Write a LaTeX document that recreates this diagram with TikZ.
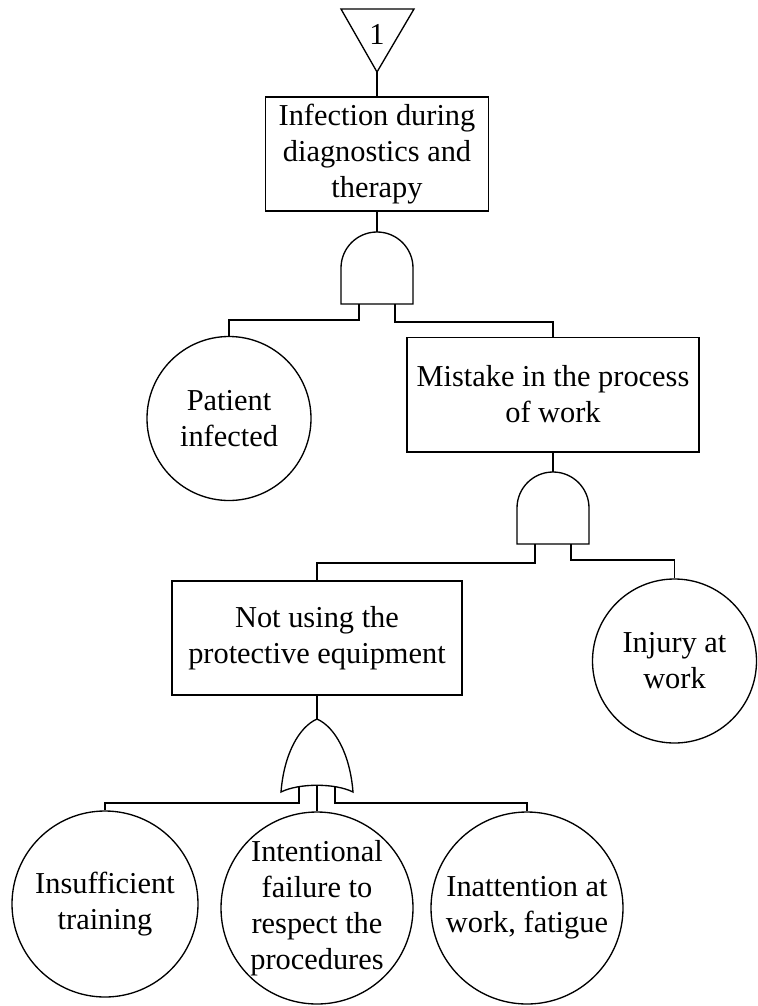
\documentclass[tikz,border=0pt]{standalone}
\usepackage{fontspec}
\setmainfont{Liberation Serif}
\usetikzlibrary{positioning}
\tikzset{every node/.style={font=\fontsize{22.8}{27}\selectfont},
 evbox/.style={draw,align=center,inner sep=0pt},
 basic/.style={circle,draw,align=center,inner sep=0pt},
 pics/andgate/.style={code={
  \draw (-36,-72)--(-36,-36) arc[start angle=180,end angle=0,radius=36]--(36,-72)--cycle;
  \coordinate (-out) at (0,0);
  \coordinate (-in1) at (-18,-72);
  \coordinate (-in2) at (18,-72);}},
 pics/orgate/.style={code={
  \draw (0,0) .. controls (18,-8) and (33,-35) .. (36,-73)
   .. controls (18,-64) and (-18,-64) .. (-36,-73)
   .. controls (-33,-35) and (-18,-8) .. cycle;
  \coordinate (-out) at (0,0);
  \coordinate (-in1) at (-18,-68);
  \coordinate (-in2) at (0,-66);
  \coordinate (-in3) at (18,-68);}}}
\begin{document}
\begin{tikzpicture}[x=.75pt,y=.75pt,line width=1pt]
\useasboundingbox (0,0) rectangle (757,-1006);
% transfer in
\draw (341,-9)--(414,-9)--(377,-72) coordinate (xfer)--cycle;
\node (xferlbl) at (377,-34) {1};
% top event and its AND gate
\node[evbox,minimum width=167pt,minimum height=85.5pt] (infect) at (377,-154)
 {Infection during\\diagnostics and\\therapy};
\pic (g1) at (377,-232) {andgate};
\node[basic,minimum size=123pt] (pat) at (229,-418.5) {Patient\\infected};
\node[evbox,minimum width=219pt,minimum height=86pt] (mistake) at (553,-394.5)
 {Mistake in the process\\of work};
\pic (g2) at (553,-472) {andgate};
\node[evbox,minimum width=217.5pt,minimum height=85.5pt] (noprot) at (317,-638)
 {Not using the\\protective equipment};
\node[basic,minimum size=123pt] (injury) at (674.5,-661) {Injury at\\work};
\pic (g3) at (317,-719) {orgate};
\node[basic,minimum size=139.5pt] (insuf) at (105,-904) {Insufficient\\training};
\node[basic,minimum size=144pt] (intent) at (317,-908)
 {Intentional\\failure to\\respect the\\procedures};
\node[basic,minimum size=144pt] (inatt) at (527,-908) {Inattention at\\work, fatigue};
% connectors
\draw (xfer)--(infect.north);
\draw (infect.south)--(g1-out);
\draw (g1-in1)--++(0,-16)-|(pat.north);
\draw (g1-in2)--++(0,-18)-|(mistake.north);
\draw (mistake.south)--(g2-out);
\draw (g2-in1)--++(0,-19)-|(noprot.north);
\draw (g2-in2)--++(0,-16)-|(injury.north);
\draw (noprot.south)--(g3-out);
\draw (g3-in1)--++(0,-16)-|(insuf.north);
\draw (g3-in2)--(intent.north);
\draw (g3-in3)--++(0,-16)-|(inatt.north);
\end{tikzpicture}
\end{document}
